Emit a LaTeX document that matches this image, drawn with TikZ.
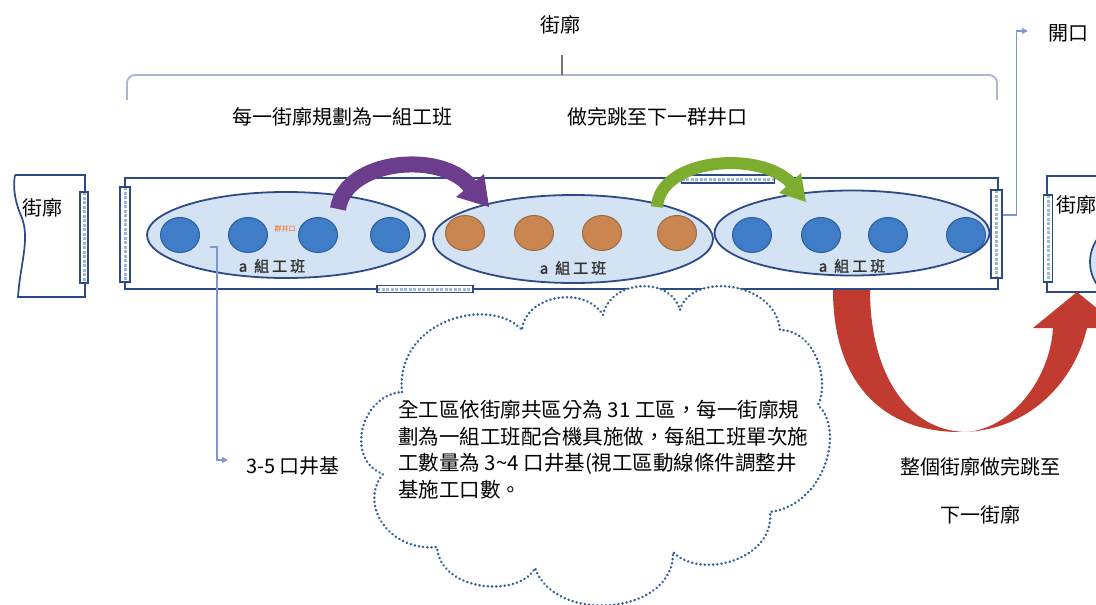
\documentclass[tikz,border=0pt]{standalone}
\usepackage{fontspec}
\setmainfont{Noto Sans CJK TC}
\newfontfamily\cjkb[FakeBold=1.6]{Noto Sans CJK TC}
\usetikzlibrary{shapes.geometric,arrows.meta}
\definecolor{navyc}{HTML}{2C4A86}
\definecolor{ellfill}{HTML}{D3E3F3}
\definecolor{holeb}{HTML}{3F7DC8}
\definecolor{holebd}{HTML}{2B5E9E}
\definecolor{holeo}{HTML}{C98650}
\definecolor{holeod}{HTML}{9C6A3E}
\definecolor{hatchc}{HTML}{9FB8DA}
\definecolor{bracec}{HTML}{A9B8D2}
\definecolor{connc}{HTML}{7C98CC}
\definecolor{purp}{HTML}{6B3D8C}
\definecolor{grn}{HTML}{7DAD2E}
\definecolor{redc}{HTML}{C23B30}
\definecolor{cloudc}{HTML}{2F5F97}
\tikzset{
  navy/.style={draw=navyc, line width=1.7pt},
  grp/.style={ellipse, draw=navyc, line width=1.8pt, fill=ellfill, inner sep=0},
  holeB/.style={ellipse, draw=holebd, line width=1pt, fill=holeb, minimum width=39pt, minimum height=35pt, inner sep=0},
  holeO/.style={ellipse, draw=holeod, line width=1pt, fill=holeo, minimum width=39pt, minimum height=35pt, inner sep=0},
  hbarv/.style={draw=navyc, line width=1.2pt, fill=white, inner sep=0,
    path picture={\draw[hatchc, line width=3pt, dash pattern=on 3pt off 1.5pt] (path picture bounding box.north) -- (path picture bounding box.south);}},
  hbarh/.style={draw=navyc, line width=1.2pt, fill=white, inner sep=0,
    path picture={\draw[hatchc, line width=3pt, dash pattern=on 3pt off 1.5pt] (path picture bounding box.west) -- (path picture bounding box.east);}},
  lbl/.style={font=\fontsize{20}{24}\selectfont, text=black, inner sep=0},
  grplbl/.style={font=\cjkb\fontsize{15}{18}\selectfont, text=black!80, inner sep=0},
  conn/.style={draw=connc, line width=1.3pt, -{Triangle[length=6pt,width=6pt]}},
  cloudline/.style={draw=cloudc, line width=2.8pt, line cap=round, dash pattern=on 0.01pt off 4.2pt, fill=white},
}
\begin{document}
\begin{tikzpicture}[x=1pt,y=-1pt]
\useasboundingbox (0,0) rectangle (1096,605);

% brace
\draw[bracec, line width=1.8pt, rounded corners=8pt] (127,100) -- (127,75) -- (997,75) -- (997,100);
\draw[black!55, line width=1.2pt] (562,75) -- (562,55);
\node[lbl] (tstreet) at (560,25) {街廓};
\node[lbl] (topen) at (1068,33) {開口};
\node[lbl] (t1) at (342,117) {每一街廓規劃為一組工班};
\node[lbl] (t2) at (657,117) {做完跳至下一群井口};

% left street block
\draw[navy, fill=white] (15,175) -- (85,175) -- (85,297) -- (18,297)
  .. controls (20,265) and (30,240) .. (22,218) .. controls (14,200) and (13,186) .. (15,175);
\node[hbarv, minimum width=8pt, minimum height=91pt] (lbar) at (84,237.5) {};
\node[lbl] (tleft) at (43,208) {街廓};

% right street block
\draw[navy, fill=white] (1100,176) -- (1047,176) -- (1047,292) -- (1100,292);
\draw[navy, fill=ellfill] (1130,262) ellipse (40 and 40);
\node[hbarv, minimum width=9pt, minimum height=87pt] (rbar2) at (1048,238.5) {};
\node[lbl] (tright) at (1076,205) {街廓};

% main block
\draw[navy] (125,178) rectangle (998,289);
\node[hbarv, minimum width=10pt, minimum height=95pt] (lbar1) at (125,234.5) {};
\node[hbarv, minimum width=11pt, minimum height=88pt] (rbar) at (996.5,234) {};
\node[hbarh, minimum width=93pt, minimum height=8pt] (tbar) at (728,179) {};
\node[hbarh, minimum width=96pt, minimum height=7pt] (bbar) at (425,289) {};

% red U-turn arrow
\fill[redc] (833,290) .. controls (833,380) and (880,432) .. (960,432)
  .. controls (1030,432) and (1075,380) .. (1087,328)
  -- (1121,328) -- (1077,292) -- (1033,328) -- (1053,328)
  .. controls (1050,380) and (1010,430) .. (965,432)
  .. controls (905,430) and (870,370) .. (870,290) -- cycle;

% groups
\node[grp, minimum width=278pt, minimum height=86pt] (e1) at (286,235) {};
\node[grp, minimum width=280pt, minimum height=88pt] (e2) at (573,239) {};
\node[grp, minimum width=275pt, minimum height=85pt] (e3) at (852,233) {};

\node[holeB] (h11) at (180,235) {};
\node[holeB] (h12) at (248,235) {};
\node[holeB] (h13) at (318,235) {};
\node[holeB] (h14) at (390,235) {};
\node[holeO] (h21) at (465,233) {};
\node[holeO] (h22) at (534,233) {};
\node[holeO] (h23) at (602,233) {};
\node[holeO] (h24) at (677,233) {};
\node[holeB] (h31) at (752,235) {};
\node[holeB] (h32) at (821,235) {};
\node[holeB] (h33) at (888,235) {};
\node[holeB] (h34) at (966,235) {};

\node[font=\fontsize{7}{8}\selectfont, text=orange!80!red, inner sep=0] (small) at (285,229) {群井口};
\node[grplbl] (g1) at (272,266) {a\hspace{7pt}組\hspace{3pt}工\hspace{3pt}班};
\node[grplbl] (g2) at (573,268) {a\hspace{7pt}組\hspace{3pt}工\hspace{3pt}班};
\node[grplbl] (g3) at (852,266) {a\hspace{7pt}組\hspace{3pt}工\hspace{3pt}班};

% purple arrow
\draw[purp, line width=16pt] (338,209) .. controls (345,160) and (440,150) .. (470,186);
\fill[purp] (456,197) -- (489,207) -- (484,174) -- cycle;
% green arrow
\draw[grn, line width=12pt] (657,207) .. controls (660,158) and (760,150) .. (791,183);
\fill[grn] (779,193) -- (806,202) -- (801,173) -- cycle;

% connectors
\node[lbl] (l35) at (293,466) {3-5 口井基};
\coordinate (p35) at (210,247);
\draw[conn, shorten >=18pt] (p35) -- ++(7,0) |- ([yshift=6pt]l35.west);
\draw[conn, shorten >=20pt] ([yshift=19pt]rbar.east) -- ++(14,0) |- ([yshift=2pt]topen.west);

% cloud
\draw[cloudline] (402,392) .. controls (395,320) and (490,295) .. (522,330)
  .. controls (525,295) and (585,285) .. (603,315)
  .. controls (610,280) and (670,275) .. (680,310)
  .. controls (690,272) and (775,280) .. (780,330)
  .. controls (815,330) and (830,380) .. (818,405)
  .. controls (845,430) and (825,505) .. (770,512)
  .. controls (775,560) and (700,580) .. (673,552)
  .. controls (675,615) and (555,625) .. (535,568)
  .. controls (520,598) and (440,592) .. (437,547)
  .. controls (390,552) and (358,505) .. (383,474)
  .. controls (345,460) and (360,395) .. (402,392);
\node[anchor=north west, inner sep=0, align=left, font=\fontsize{20.5}{26.7}\selectfont] (ctext) at (398,400)
  {全工區依街廓共區分為 31 工區，每一街廓規\\劃為一組工班配合機具施做，每組工班單次施\\工數量為 3\textasciitilde 4 口井基(視工區動線條件調整井\\基施工口數。};

\node[lbl] (r1) at (980,467) {整個街廓做完跳至};
\node[lbl] (r2) at (980,515) {下一街廓};
\end{tikzpicture}
\end{document}
